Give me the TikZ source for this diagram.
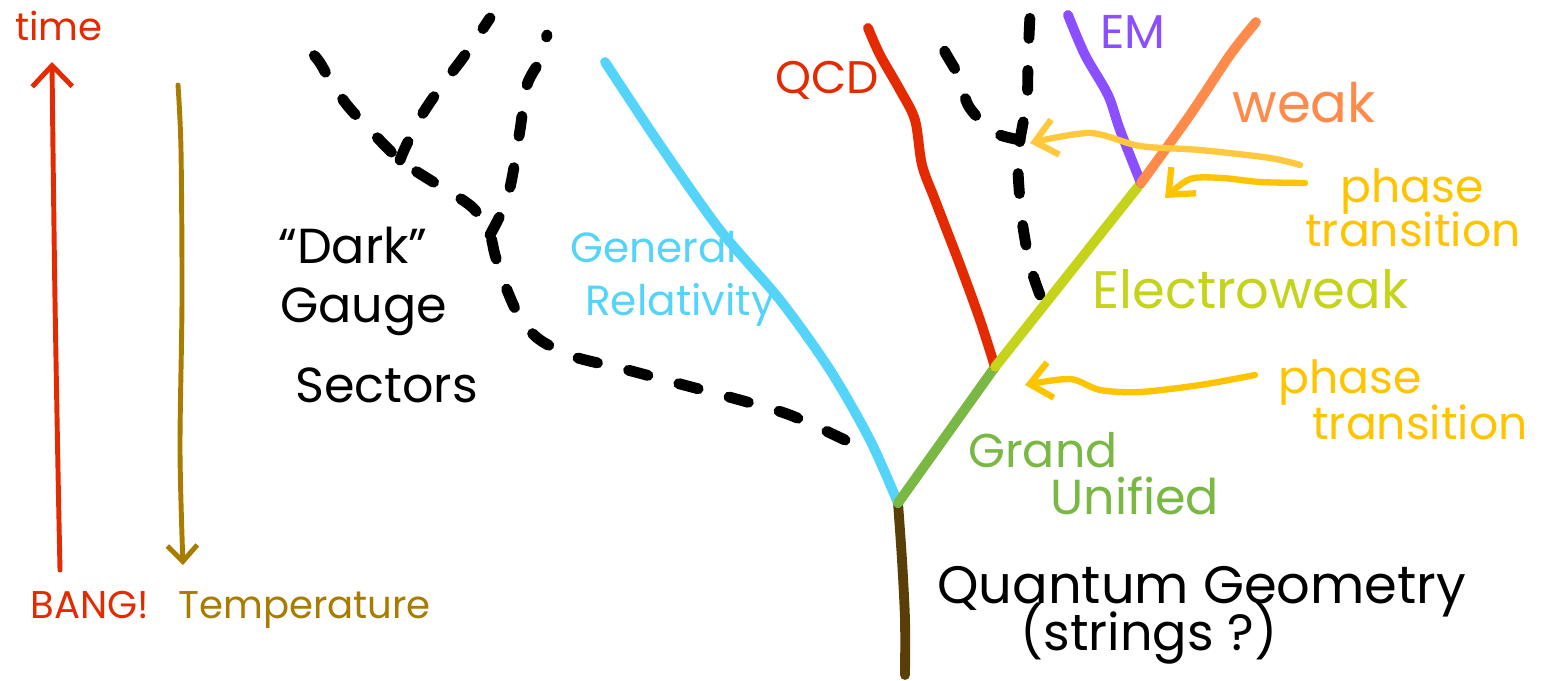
\documentclass[tikz,border=0pt]{standalone}
\usepackage{fontspec}
\setmainfont{Poppins}
\usetikzlibrary{arrows.meta}
\definecolor{cred}{HTML}{E32A00}
\definecolor{ctemp}{HTML}{A87C00}
\definecolor{cblue}{HTML}{55D4FA}
\definecolor{cgreen}{HTML}{78B843}
\definecolor{cyg}{HTML}{C5D41B}
\definecolor{cpurple}{HTML}{8B4FFF}
\definecolor{corange}{HTML}{FF8A4A}
\definecolor{cyel}{HTML}{FFC400}
\definecolor{cyel2}{HTML}{FFC83D}
\definecolor{cbrown}{HTML}{5A3E08}
\tikzset{
  branch/.style={line width=5.6pt,line cap=round,line join=round},
  darkline/.style={line width=6.2pt,line cap=round,line join=round,black,dash pattern=on 0.4cm off 0.64cm},
  axisarrow/.style={line width=2.8pt,line cap=round,line join=round},
  pointer/.style={line width=3.6pt,line cap=round,line join=round,-{Straight Barb[length=0.42cm,width=0.72cm,line width=3.6pt]}},
  lbl/.style={anchor=base west,inner sep=0pt,font=\fontsize{24}{28}\selectfont}
}
\begin{document}
\begin{tikzpicture}[x=0.02cm,y=-0.02cm]
\path[use as bounding box,fill=white] (0,0) rectangle (1562,680);
% named points
\coordinate (gj) at (898,503);
\coordinate (trunkbot) at (905,675);
\coordinate (grtop) at (605,62);
\coordinate (ewj) at (995,367);
\coordinate (qcdtop) at (868,28);
\coordinate (emj) at (1141,183);
\coordinate (emtop) at (1068,15);
\coordinate (weaktop) at (1256,22);
\coordinate (dsend) at (845,440);
\coordinate (dsA) at (400,160);
\coordinate (dsB) at (490,235);
\coordinate (dstop) at (300,40);
\coordinate (dsAtop) at (490,18);
\coordinate (dsBtop) at (547,35);
\coordinate (rdbot) at (1040,295);
\coordinate (rdj) at (1020,140);
\coordinate (rdtop) at (1030,15);
\coordinate (rdbtop) at (940,38);
\coordinate (bangpt) at (60,570);
\coordinate (timept) at (52,62);
\coordinate (temptop) at (178,85);
\coordinate (tempbot) at (183,565);
% axes
\draw[axisarrow,cred,-{Straight Barb[length=0.42cm,width=0.8cm,line width=2.8pt]}] plot[smooth] coordinates {(bangpt) (58,470) (55,300) (53,150) (timept)};
\draw[axisarrow,ctemp,-{Straight Barb[length=0.32cm,width=0.6cm,line width=2.8pt]}] plot[smooth] coordinates {(temptop) (181,150) (182,300) (180,450) (tempbot)};
% dark sectors
\draw[darkline] plot[smooth] coordinates {(dsend) (790,415) (740,400) (665,380) (620,368) (575,357) (540,340) (520,318) (505,285) (495,255) (dsB) (475,210) (455,195) (430,180) (dsA) (370,130) (347,105) (330,80) (318,60) (dstop)};
\draw[darkline] plot[smooth] coordinates {(dsA) (405,148) (420,118) (440,88) (465,55) (dsAtop)};
\draw[darkline] plot[smooth] coordinates {(dsB) (505,205) (512,178) (520,130) (527,85) (540,60) (dsBtop)};
\draw[darkline] plot[smooth] coordinates {(rdbot) (1030,265) (1022,220) (1018,170) (rdj) (1027,100) (1028,60) (rdtop)};
\draw[darkline] plot[smooth] coordinates {(rdj) (1000,135) (985,125) (968,105) (958,75) (945,52) (rdbtop)};
% tree
\draw[branch,cbrown] plot[smooth] coordinates {(gj) (902,560) (905,620) (trunkbot)};
\draw[branch,cblue] plot[smooth] coordinates {(gj) (870,440) (830,370) (780,300) (720,230) (660,145) (grtop)};
\draw[branch,cgreen] (gj) -- (ewj);
\draw[branch,cred] plot[smooth] coordinates {(ewj) (980,320) (960,265) (935,200) (922,165) (915,120) (900,90) (880,55) (qcdtop)};
\draw[branch,cyg] (ewj) -- (emj);
\draw[branch,cpurple] plot[smooth] coordinates {(emj) (1120,130) (1108,95) (1085,55) (emtop)};
\draw[branch,corange] plot[smooth] coordinates {(emj) (1190,115) (1230,55) (weaktop)};
% phase transition pointers
\coordinate (p1s) at (1300,165);
\coordinate (p1e) at (1030,143);
\coordinate (p2s) at (1305,183);
\coordinate (p2e) at (1165,198);
\coordinate (p3s) at (1255,375);
\coordinate (p3e) at (1025,385);
\draw[pointer,cyel2] plot[smooth] coordinates {(p1s) (1270,158) (1200,150) (1140,146) (1090,133) (p1e)};
\draw[pointer,cyel] plot[smooth] coordinates {(p2s) (1260,182) (1222,178) (1190,179) (p2e)};
\draw[pointer,cyel] plot[smooth] coordinates {(p3s) (1200,385) (1140,392) (1100,390) (1070,379) (p3e)};
% labels
\node[lbl,cred,font=\fontsize{22}{26}\selectfont] (time) at (15,40) {time};
\node[lbl,cred,font=\fontsize{22}{26}\selectfont] (bang) at (30,618) {BANG!};
\node[lbl,ctemp,font=\fontsize{22}{26}\selectfont] (temp) at (178,618) {Temperature};
\node[lbl,black,font=\fontsize{28}{32}\selectfont] (dark) at (278,263) {“Dark”};
\node[lbl,black,font=\fontsize{28}{32}\selectfont] (gauge) at (280,322) {Gauge};
\node[lbl,black,font=\fontsize{28}{32}\selectfont] (sectors) at (295,402) {Sectors};
\node[lbl,cblue] (general) at (570,262) {General};
\node[lbl,cblue] (relativity) at (585,315) {Relativity};
\node[lbl,cred,font=\fontsize{26}{30}\selectfont] (qcd) at (775,93) {QCD};
\node[lbl,cpurple,font=\fontsize{27}{30}\selectfont] (em) at (1100,48) {EM};
\node[lbl,corange,font=\fontsize{31}{34}\selectfont] (weak) at (1232,122) {weak};
\node[lbl,cyel,font=\fontsize{26}{30}\selectfont] (phase1) at (1340,202) {phase};
\node[lbl,cyel,font=\fontsize{26}{30}\selectfont] (trans1) at (1305,246) {transition};
\node[lbl,cyg,font=\fontsize{30}{34}\selectfont] (ew) at (1092,308) {Electroweak};
\node[lbl,cyel,font=\fontsize{26}{30}\selectfont] (phase2) at (1278,393) {phase};
\node[lbl,cyel,font=\fontsize{26}{30}\selectfont] (trans2) at (1312,439) {transition};
\node[lbl,cgreen,font=\fontsize{27}{30}\selectfont] (grand) at (968,467) {Grand};
\node[lbl,cgreen,font=\fontsize{28}{32}\selectfont] (unified) at (1050,514) {Unified};
\node[lbl,black,font=\fontsize{30}{34}\selectfont] (qg) at (937,603) {Quantum Geometry};
\node[lbl,black,font=\fontsize{29}{32}\selectfont] (strings) at (1020,650) {(strings ?)};
\end{tikzpicture}
\end{document}
